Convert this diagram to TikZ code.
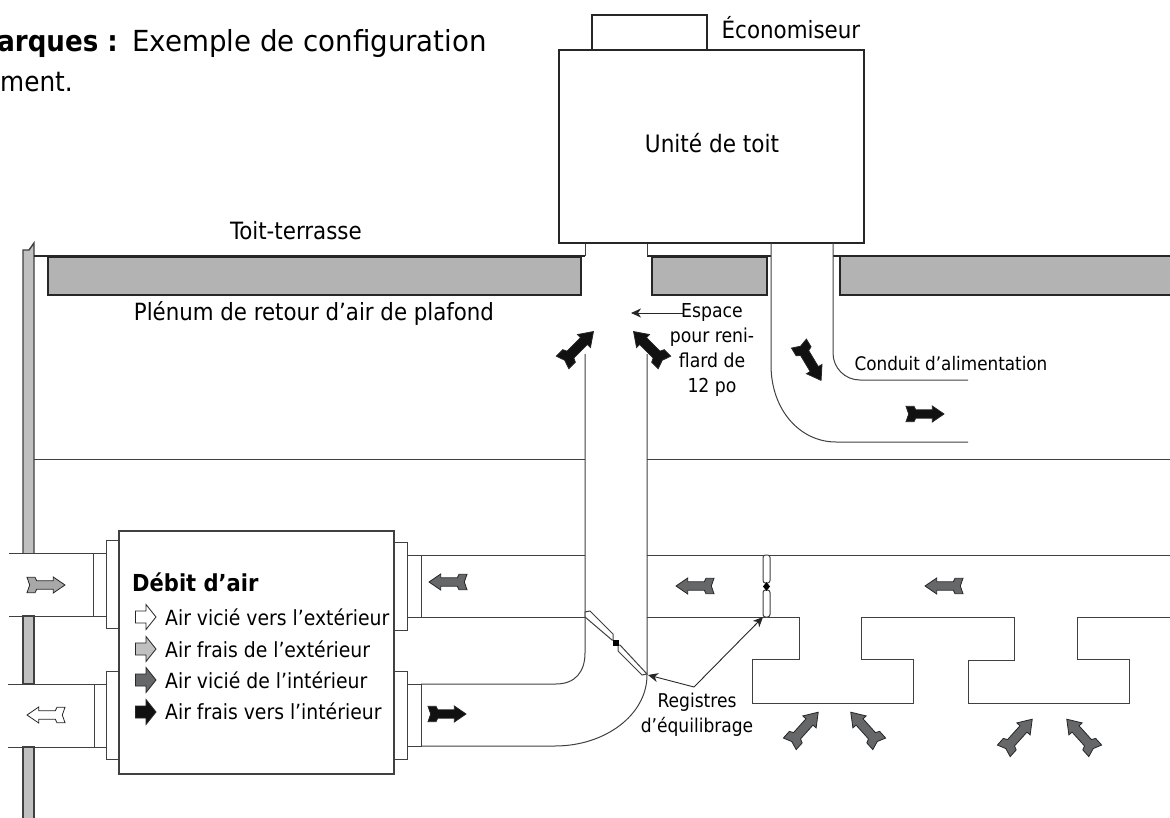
\documentclass[tikz,border=0pt]{standalone}
\usepackage{fontspec}
\setmainfont{DejaVu Sans Condensed}
\usetikzlibrary{arrows.meta}
\definecolor{panelgray}{HTML}{B3B3B3}
\definecolor{wallgray}{HTML}{C0C0C0}
\definecolor{arrowgray}{HTML}{A8A8A8}
\definecolor{midgray}{HTML}{666769}
\definecolor{darkfill}{HTML}{111111}
\definecolor{linegray}{HTML}{404040}
\tikzset{
  thin line/.style={draw=linegray,line width=1pt},
  heavy line/.style={draw=black!85,line width=1.7pt},
  panel/.style={fill=panelgray,draw=black!85,line width=1.2pt},
  wall/.style={fill=wallgray,draw=linegray,line width=1.4pt},
  flange/.style={fill=white,draw=linegray,line width=1pt},
  leader/.style={draw=black!85,line width=0.9pt,-{Stealth[length=10pt,width=9pt,inset=3pt]}},
  lbl/.style={inner sep=0pt,font=\fontsize{20.9}{25}\selectfont,align=center},
  damper/.style={fill=white,draw=linegray,line width=1pt},
}
\newcommand{\flowarrow}[5]{% x y angle scale fill
  \begin{scope}[shift={(#1,#2)},rotate=#3,scale=#4]
    \filldraw[fill=#5,draw=black!85,line width=0.8pt,line join=miter]
      (19,0)--(7.3,-8)--(7.3,-4.2)--(-9.3,-4.2)--(-11,-7.7)--(-19,-7.7)--(-16.3,0)--(-19,7.7)--(-11,7.7)--(-9.3,4.2)--(7.3,4.2)--(7.3,8)--cycle;
  \end{scope}}
\newcommand{\legendarrow}[2]{% y fill
  \filldraw[fill=#2,draw=black!85,line width=0.8pt,line join=miter]
    (135.5,#1-6)--(146,#1-6)--(146,#1-12.5)--(156,#1)--(146,#1+12.5)--(146,#1+6)--(135.5,#1+6)--cycle;}
\begin{document}
\begin{tikzpicture}[x=1pt,y=-1pt]
\useasboundingbox (0,0) rectangle (1170,818);
% wall
\draw[wall] (23,553)--(23,250)--(29,250)--(34,243)--(34,553);
\draw[wall] (23,616) rectangle (34,684);
\draw[wall] (34,818)--(34,747)--(23,747)--(23,818);
% gray panels
\draw[panel] (48,257) rectangle (581,295);
\draw[panel] (652,257) rectangle (767,295);
\path[fill=panelgray] (840,257) rectangle (1170,295);
\draw[black!85,line width=1.2pt] (1170,295)--(840,295)--(840,257);
% roof line
\draw[heavy line] (34,256)--(585,256);
\draw[heavy line] (647,256)--(771,256);
\draw[heavy line] (833,256)--(1170,256);
% collars
\draw[thin line] (585,243)--(585,256);
\draw[thin line] (647,243)--(647,256);
% rooftop unit
\draw[heavy line,line width=1.4pt,fill=white] (592,50)--(592,15)--(707,15)--(707,50);
\draw[heavy line,fill=white] (559,50) rectangle (864,243);
% supply duct
\draw[thin line] (771,243)--(771,365) .. controls (771,410) and (800,442) .. (836,442)--(968,442);
\draw[thin line] (833,243)--(833,353) .. controls (833,368) and (845,380) .. (860,380)--(968,380);
% horizontal ceiling line
\draw[thin line] (34,459)--(585,459);
\draw[thin line] (647,459)--(1170,459);
% left ducts
\draw[thin line] (9,553)--(93,553) (9,616)--(93,616);
\draw[thin line] (8,684)--(94,684) (8,747)--(94,747);
% central duct
\draw[thin line] (421,555)--(585,555);
\draw[thin line] (421,617)--(585,617);
\draw[thin line] (585,354)--(585,653) .. controls (585,672) and (575,684) .. (556,684)--(421,684);
\draw[thin line] (647,354)--(647,675) .. controls (647,715) and (605,746) .. (555,746)--(421,746);
% right duct and registers
\draw[thin line] (647,555)--(1170,555);
\draw[thin line] (647,617)--(799,617)--(799,659)--(752,659)--(752,703)--(913,703)--(913,659)--(861,659)--(861,617)--(1014,617)--(1014,660)--(968,660)--(968,703)--(1129,703)--(1129,659)--(1077,659)--(1077,617)--(1170,617);
% flanges
\draw[flange] (93,553) rectangle (106,616);
\draw[flange] (106,540) rectangle (119,628);
\draw[flange] (94,684) rectangle (106,747);
\draw[flange] (106,671) rectangle (119,759);
\draw[flange] (407,555) rectangle (421,617);
\draw[flange] (394,542) rectangle (407,630);
\draw[flange] (407,684) rectangle (421,746);
\draw[flange] (394,671) rectangle (407,759);
\draw[line width=1.3pt,draw=linegray,fill=white] (119,531) rectangle (394,774);
% dampers
\draw[damper] (585,612)--(590,611)--(613,634)--(613,640)--(612,640)--(585,617)--cycle;
\draw[damper] (618,645)--(620,645)--(647,674)--(642,675)--(618,651)--cycle;
\fill[black] (612.5,639.5) rectangle (619,646);
\draw[damper,rounded corners=2.5pt] (763,555)--(770,555)--(770,583)--(763,583)--cycle;
\draw[damper,rounded corners=2.5pt] (763,590)--(770,590)--(770,617)--(763,617)--cycle;
\fill[black] (766.5,582) -- (770,586.5) -- (766.5,591) -- (763,586.5) -- cycle;
% flow arrows
\flowarrow{46}{585}{0}{1}{arrowgray}
\flowarrow{46}{715}{180}{1}{white}
\flowarrow{448}{582}{180}{1}{midgray}
\flowarrow{447}{714}{0}{1}{darkfill}
\flowarrow{695}{586}{180}{1}{midgray}
\flowarrow{944}{586}{180}{1}{midgray}
\flowarrow{578}{347}{45}{1.15}{darkfill}
\flowarrow{649}{347}{135}{1.15}{darkfill}
\flowarrow{810}{362}{-59}{1.13}{darkfill}
\flowarrow{925}{414}{0}{1}{darkfill}
\flowarrow{804}{728}{48}{1.12}{midgray}
\flowarrow{865}{728}{132}{1.12}{midgray}
\flowarrow{1018}{735}{48}{1.12}{midgray}
\flowarrow{1081}{735}{132}{1.12}{midgray}
% legend
\legendarrow{617}{white}
\legendarrow{649}{wallgray}
\legendarrow{680}{midgray}
\legendarrow{712}{darkfill}
\node[lbl,anchor=west,font=\fontsize{23.4}{28}\selectfont\bfseries] (legendtitle) at (132,582) {Débit d’air};
\node[lbl,anchor=west] (l1) at (165,617) {Air vicié vers l’extérieur};
\node[lbl,anchor=west] (l2) at (165,649) {Air frais de l’extérieur};
\node[lbl,anchor=west] (l3) at (165,680) {Air vicié de l’intérieur};
\node[lbl,anchor=west] (l4) at (165,711) {Air frais vers l’intérieur};
% labels
\node[lbl,anchor=base east,font=\fontsize{29}{33}\selectfont\bfseries] (rem1a) at (118,52) {arques :};
\node[lbl,anchor=base west,font=\fontsize{29}{33}\selectfont\addfontfeatures{FakeStretch=1.06}] (rem1b) at (132,52) {Exemple de configuration};
\node[lbl,anchor=base west,font=\fontsize{27.5}{33}\selectfont] (rem2) at (0,92) {ment.};
\node[lbl,font=\fontsize{23.8}{28}\selectfont] (eco) at (791,28) {Économiseur};
\node[lbl,font=\fontsize{24}{28}\selectfont] (unit) at (712,143) {Unité de toit};
\node[lbl,font=\fontsize{23.8}{28}\selectfont] (toit) at (296,231) {Toit-terrasse};
\node[lbl,font=\fontsize{23.7}{28}\selectfont] (plenum) at (314,313) {Plénum de retour d’air de plafond};
\node[lbl,font=\fontsize{19.2}{25}\selectfont] (espace) at (712,350) {Espace\\pour reni-\\flard de\\12 po};
\node[lbl,font=\fontsize{18.7}{25}\selectfont] (conduit) at (951,364) {Conduit d’alimentation};
\node[lbl,font=\fontsize{19}{25}\selectfont] (registres) at (697,715) {Registres\\d’équilibrage};
% leaders
\coordinate (esptip) at (631,313);
\coordinate (espstart) at (683,313);
\draw[leader] (espstart)--(esptip);
\coordinate (regv) at (694,687);
\coordinate (regA) at (648,675);
\coordinate (regB) at (763,617);
\draw[leader] (regv)--(regA);
\draw[leader] (regv)--(regB);
\end{tikzpicture}
\end{document}
